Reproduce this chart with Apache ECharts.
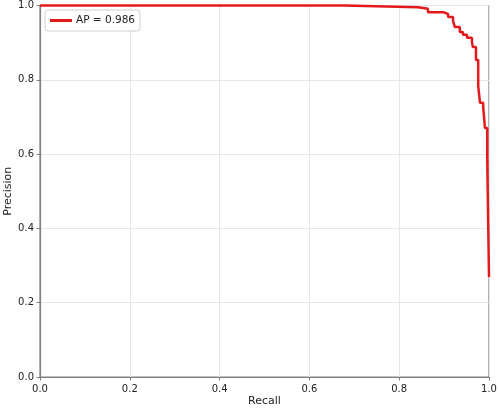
<!DOCTYPE html>
<html>
<head>
<meta charset="utf-8">
<script src="https://cdn.jsdelivr.net/npm/echarts@6/dist/echarts.min.js"></script>
<style>
  html, body { margin: 0; padding: 0; background: #fff; }
  #chart { width: 498px; height: 409px; }
</style>
</head>
<body>
<div id="chart"></div>
<script>
// step points: at recall[i] the precision drops to precision[i]
const recall = [0.0, 0.679, 0.842, 0.864, 0.898, 0.909, 0.920, 0.924, 0.935, 0.942,
  0.951, 0.962, 0.964, 0.971, 0.976, 0.980, 0.987, 0.991, 0.996, 1.0];
const precision = [1.0, 0.995, 0.991, 0.982, 0.977, 0.969, 0.958, 0.942, 0.929, 0.921,
  0.913, 0.902, 0.888, 0.853, 0.783, 0.738, 0.727, 0.670, 0.592, 0.269];
const legendLabel = 'AP = 0.986';

const font = 'DejaVu Sans';
const axisGray = '#808080';

// staircase: hold previous precision until the next recall, then drop
function stairs() {
  let pts = [[recall[0], precision[0]]];
  for (let i = 1; i < recall.length; i++) {
    pts.push([recall[i], precision[i - 1]]);
    pts.push([recall[i], precision[i]]);
  }
  return pts;
}

let chart = echarts.init(document.getElementById('chart'));
chart.setOption({
  animation: false,
  grid: {
    left: 40, right: 9, top: 5.5, bottom: 32,
    outerBoundsMode: 'none', containLabel: false,
    show: true, borderColor: axisGray, borderWidth: 1.2
  },
  legend: {
    left: 45, top: 10,
    data: [legendLabel],
    icon: 'rect',
    itemWidth: 22, itemHeight: 3, itemGap: 6,
    backgroundColor: '#fff',
    borderColor: '#d0d0d0', borderWidth: 1, borderRadius: 3,
    padding: [5, 5, 5, 5],
    textStyle: { fontFamily: font, fontSize: 10.5, color: '#222', padding: [0, 0, 0, -1] }
  },
  xAxis: {
    type: 'value', min: 0, max: 1, interval: 0.2,
    name: 'Recall', nameLocation: 'middle', nameGap: 19, nameMoveOverlap: false,
    nameTextStyle: { fontFamily: font, fontSize: 11, color: '#222' },
    axisLine: { show: true, lineStyle: { color: axisGray, width: 1.2 } },
    axisTick: { show: true, length: 3.5, lineStyle: { color: axisGray } },
    axisLabel: { fontFamily: font, fontSize: 10, color: '#222', margin: 7,
      formatter: v => v.toFixed(1) },
    splitLine: { show: true, lineStyle: { color: '#e6e6e6', width: 1 } }
  },
  yAxis: {
    type: 'value', min: 0, max: 1, interval: 0.2,
    name: 'Precision', nameLocation: 'middle', nameGap: 32, nameMoveOverlap: false,
    nameTextStyle: { fontFamily: font, fontSize: 11, color: '#222', verticalAlign: 'middle' },
    axisLine: { show: true, lineStyle: { color: axisGray, width: 1.2 } },
    axisTick: { show: true, length: 3.5, lineStyle: { color: axisGray } },
    axisLabel: { fontFamily: font, fontSize: 10, color: '#222', margin: 6,
      formatter: v => v.toFixed(1) },
    splitLine: { show: true, lineStyle: { color: '#e6e6e6', width: 1 } }
  },
  series: [{
    name: legendLabel,
    type: 'line',
    showSymbol: false,
    clip: false,
    data: stairs(),
    lineStyle: { color: '#e31a1c', width: 2.5 },
    itemStyle: { color: '#e31a1c' }
  }]
});
</script>
</body>
</html>
